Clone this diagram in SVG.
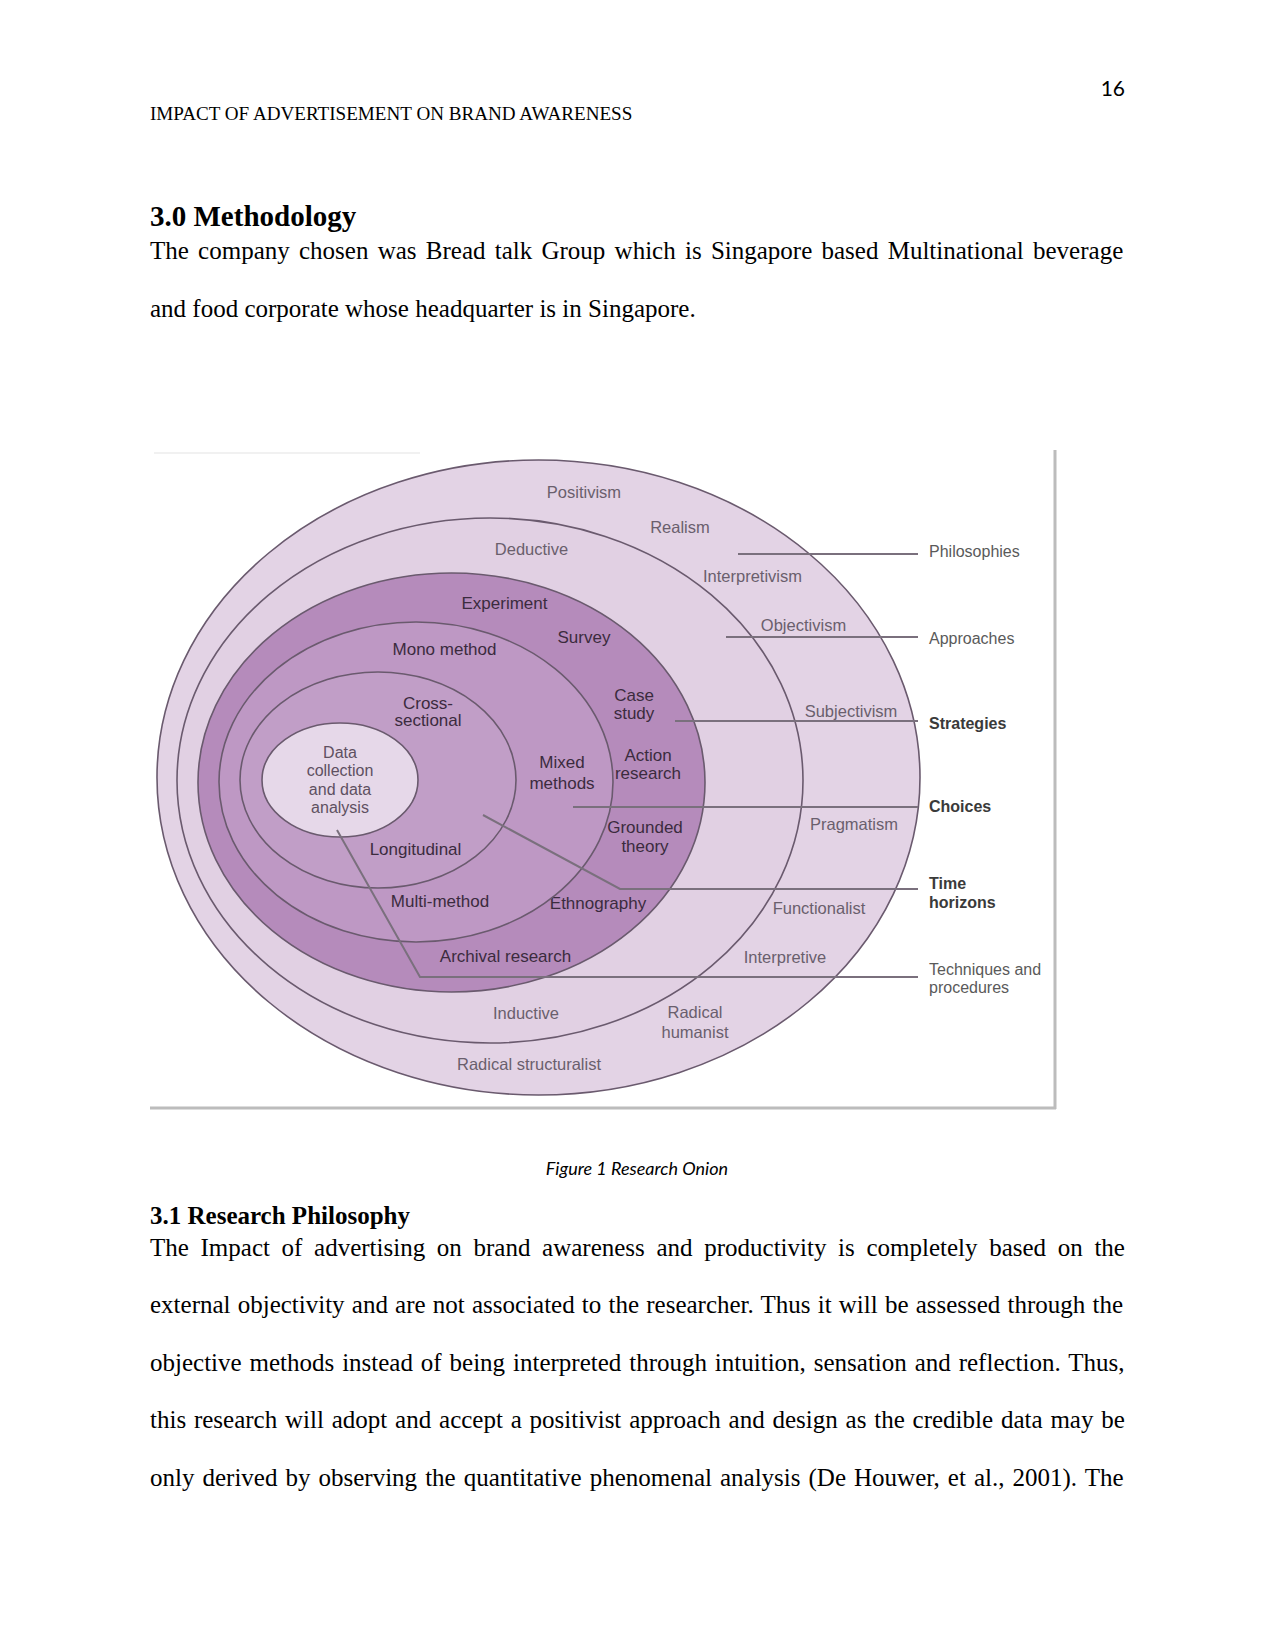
<svg xmlns="http://www.w3.org/2000/svg" width="1275" height="1651" viewBox="0 0 1275 1651">
<style>
.body{font-family:"Liberation Serif","Times New Roman",serif;font-size:25px;fill:#000}
.hdr{font-family:"Liberation Serif","Times New Roman",serif;font-size:19.1px;fill:#000}
.h1{font-family:"Liberation Serif","Times New Roman",serif;font-size:29px;font-weight:bold;fill:#000}
.h2{font-family:"Liberation Serif","Times New Roman",serif;font-size:25px;font-weight:bold;fill:#000}
.cal{font-family:Lato,"Open Sans",sans-serif;fill:#000}
.ol{font-family:"Liberation Sans",Arial,sans-serif;font-size:16.5px;fill:#6a5f6d;text-anchor:middle}
.dl{font-family:"Liberation Sans",Arial,sans-serif;font-size:17px;fill:#3b2b3e;text-anchor:middle}
.il{font-family:"Liberation Sans",Arial,sans-serif;font-size:16px;fill:#5e5061;text-anchor:middle}
.rl{font-family:"Liberation Sans",Arial,sans-serif;font-size:16px;fill:#5a5a5a}
.rb{font-family:"Liberation Sans",Arial,sans-serif;font-size:16px;fill:#3a3a3a;font-weight:bold}
.ring{stroke:#6a5a6e;stroke-width:1.6}
.conn{stroke:#7a707d;stroke-width:2;fill:none}
</style>

<g id="page-header">
<text class="cal" x="1125" y="96" font-size="21" text-anchor="end">16</text>
<text class="hdr" x="150" y="120">IMPACT OF ADVERTISEMENT ON BRAND AWARENESS</text>
</g>

<g id="section-3-0">
<text class="h1" x="150" y="226">3.0 Methodology</text>
<text class="body" x="150" y="259" word-spacing="3.0">The company chosen was Bread talk Group which is Singapore based Multinational beverage</text>
<text class="body" x="150" y="317">and food corporate whose headquarter is in Singapore.</text>
</g>

<g id="figure-frame">
<line x1="154" y1="453" x2="420" y2="453" stroke="#f1f1f1" stroke-width="2"/>
<line x1="1055" y1="450" x2="1055" y2="1109" stroke="#bcbcbc" stroke-width="3"/>
<line x1="150" y1="1108" x2="1056" y2="1108" stroke="#bcbcbc" stroke-width="3"/>
</g>

<g id="layer-philosophies">
<ellipse class="ring" cx="538.5" cy="777.5" rx="381.5" ry="317.5" fill="#e3d3e5"/>
<text class="ol" x="584" y="498">Positivism</text>
<text class="ol" x="680" y="533">Realism</text>
<text class="ol" x="752.5" y="582">Interpretivism</text>
<text class="ol" x="851" y="717">Subjectivism</text>
<text class="ol" x="854" y="830">Pragmatism</text>
<text class="ol" x="819" y="914">Functionalist</text>
<text class="ol" x="785" y="963">Interpretive</text>
<text class="ol" x="695" y="1018">Radical</text>
<text class="ol" x="695" y="1038">humanist</text>
<text class="ol" x="529" y="1070">Radical structuralist</text>
</g>

<g id="layer-approaches">
<ellipse class="ring" cx="490" cy="780.5" rx="313" ry="262.5" fill="#e1d0e3"/>
<text class="ol" x="531.5" y="555">Deductive</text>
<text class="ol" x="803.5" y="631">Objectivism</text>
<text class="ol" x="526" y="1019">Inductive</text>
</g>

<g id="layer-strategies">
<ellipse class="ring" cx="451.5" cy="782.5" rx="253.5" ry="209.5" fill="#b58bbb"/>
<text class="dl" x="504.5" y="609">Experiment</text>
<text class="dl" x="584" y="643">Survey</text>
<text class="dl" x="634" y="701">Case</text>
<text class="dl" x="634" y="719">study</text>
<text class="dl" x="648" y="761">Action</text>
<text class="dl" x="648" y="779">research</text>
<text class="dl" x="645" y="833">Grounded</text>
<text class="dl" x="645" y="852">theory</text>
<text class="dl" x="598" y="909">Ethnography</text>
<text class="dl" x="505.5" y="962">Archival research</text>
</g>

<g id="layer-choices">
<ellipse class="ring" cx="416" cy="782" rx="197" ry="160" fill="#be98c4"/>
<text class="dl" x="444.5" y="655">Mono method</text>
<text class="dl" x="562" y="768">Mixed</text>
<text class="dl" x="562" y="789">methods</text>
<text class="dl" x="440" y="907">Multi-method</text>
</g>

<g id="layer-time-horizons">
<ellipse class="ring" cx="378" cy="780" rx="138" ry="108" fill="#c19ec7"/>
<text class="dl" x="428" y="709">Cross-</text>
<text class="dl" x="428" y="726">sectional</text>
<text class="dl" x="415.5" y="855">Longitudinal</text>
</g>

<g id="layer-techniques">
<ellipse class="ring" cx="340" cy="780" rx="78" ry="57" fill="#e6d8e9"/>
<text class="il" x="340" y="758">Data</text>
<text class="il" x="340" y="776">collection</text>
<text class="il" x="340" y="795">and data</text>
<text class="il" x="340" y="813">analysis</text>
</g>

<g id="connectors">
<line class="conn" x1="738" y1="554" x2="918" y2="554"/>
<line class="conn" x1="726" y1="637" x2="918" y2="637"/>
<line class="conn" x1="675" y1="721" x2="918" y2="721"/>
<line class="conn" x1="573" y1="807" x2="918" y2="807"/>
<polyline class="conn" points="483,815 620,889 918,889"/>
<polyline class="conn" points="337,830 420,977 918,977"/>
</g>

<g id="legend-labels">
<text class="rl" x="929" y="557">Philosophies</text>
<text class="rl" x="929" y="644">Approaches</text>
<text class="rb" x="929" y="729">Strategies</text>
<text class="rb" x="929" y="812">Choices</text>
<text class="rb" x="929" y="889">Time</text>
<text class="rb" x="929" y="908">horizons</text>
<text class="rl" x="929" y="975">Techniques and</text>
<text class="rl" x="929" y="993">procedures</text>
</g>

<g id="caption">
<text class="cal" x="637" y="1175" font-size="18" font-style="italic" text-anchor="middle" fill="#222">Figure 1 Research Onion</text>
</g>

<g id="section-3-1">
<text class="h2" x="150" y="1224">3.1 Research Philosophy</text>
<text class="body" x="150" y="1256" word-spacing="5.41">The Impact of advertising on brand awareness and productivity is completely based on the</text>
<text class="body" x="150" y="1313" word-spacing="0.94">external objectivity and are not associated to the researcher. Thus it will be assessed through the</text>
<text class="body" x="150" y="1371" word-spacing="1.65">objective methods instead of being interpreted through intuition, sensation and reflection. Thus,</text>
<text class="body" x="150" y="1428" word-spacing="1.575">this research will adopt and accept a positivist approach and design as the credible data may be</text>
<text class="body" x="150" y="1486" word-spacing="1.78">only derived by observing the quantitative phenomenal analysis (De Houwer, et al., 2001). The</text>
</g>
</svg>
